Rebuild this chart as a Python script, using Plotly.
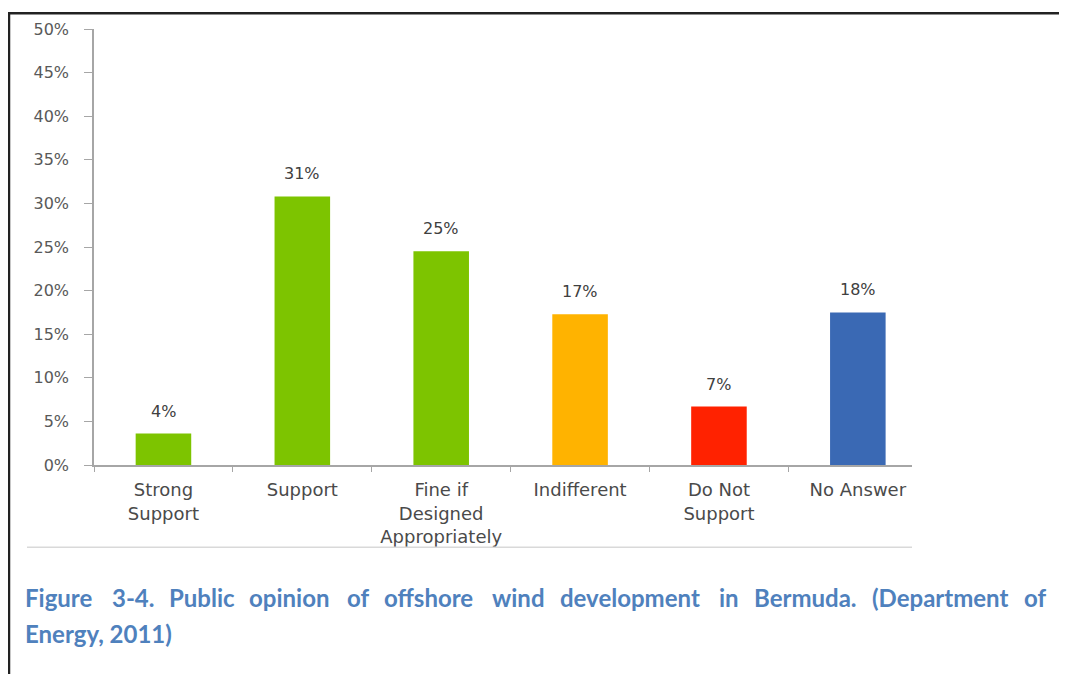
import plotly.graph_objects as go

categories = ["Strong<br>Support", "Support", "Fine if<br>Designed<br>Appropriately",
              "Indifferent", "Do Not<br>Support", "No Answer"]
values = [3.6, 30.8, 24.5, 17.3, 6.7, 17.5]
value_labels = ["4%", "31%", "25%", "17%", "7%", "18%"]
colors = ["#7DC400", "#7DC400", "#7DC400", "#FFB300", "#FF2200", "#3A69B4"]
y_ticks = [0, 5, 10, 15, 20, 25, 30, 35, 40, 45, 50]
caption_line1 = ["Figure", "3-4.", "Public", "opinion", "of", "offshore", "wind",
                 "development", "in", "Bermuda.", "(Department", "of"]
caption_line2 = "Energy, 2011)"

# page body offset of 8px: figure drawn from screen (8, 8)
OFF = 8
W, H = 1067 - OFF, 674 - OFF
L, T = 94 - OFF, 25 - OFF
R = W - (912 - OFF)
B = H - (465 - OFF)
PW, PH = W - L - R, H - T - B


def px(x):
    return (x - OFF - L) / PW


def py(y):
    return (H - B - (y - OFF)) / PH


fig = go.Figure()
fig.add_trace(go.Bar(x=categories, y=values, marker_color=colors,
                     marker_line_width=0, hoverinfo="skip"))

for c, v, t in zip(categories, values, value_labels):
    fig.add_annotation(x=c, y=v, text=t, showarrow=False, yanchor="bottom",
                       yshift=11, font=dict(family="DejaVu Sans", size=16, color="#404040"))

cap_font = dict(family="Lato", size=24, color="#4F81BD", weight="bold")
word_x = [23, 110, 167, 247, 345, 382, 490, 558, 717, 752, 870, 1022]
for wx, w in zip(word_x, caption_line1):
    fig.add_annotation(xref="paper", yref="paper", x=px(wx), y=py(599), text=w,
                       showarrow=False, xanchor="left", yanchor="middle", font=cap_font)
fig.add_annotation(xref="paper", yref="paper", x=px(23), y=py(635), text=caption_line2,
                   showarrow=False, xanchor="left", yanchor="middle", font=cap_font)

# separator line and page border
fig.add_shape(type="line", xref="paper", yref="paper", x0=px(27), x1=px(912),
              y0=py(548), y1=py(548), line=dict(color="#D9D9D9", width=1.5))
fig.add_shape(type="line", xref="paper", yref="paper", x0=px(9), x1=px(9),
              y0=py(8), y1=py(690), line=dict(color="#222222", width=2.5))
fig.add_shape(type="line", xref="paper", yref="paper", x0=px(8), x1=px(1080),
              y0=py(9), y1=py(9), line=dict(color="#222222", width=2.5))

fig.update_layout(
    width=W, height=H,
    margin=dict(l=L, r=R, t=T, b=B),
    paper_bgcolor="white", plot_bgcolor="white",
    bargap=0.6, showlegend=False,
    font=dict(family="DejaVu Sans", color="#595959"),
)
fig.update_xaxes(range=[-0.5, 5.39],
                 showline=True, linecolor="#A6A6A6", linewidth=1.5,
                 ticks="outside", tickson="boundaries", ticklen=5, tickcolor="#A6A6A6",
                 ticklabelstandoff=8,
                 tickfont=dict(family="DejaVu Sans", size=18, color="#4A4A4A"),
                 showgrid=False, fixedrange=True)
fig.update_yaxes(range=[0, 50], tickvals=y_ticks, ticktext=[f"{v}%" for v in y_ticks],
                 showline=True, linecolor="#A6A6A6", linewidth=1.5, ticks="outside",
                 ticklen=8, tickcolor="#A6A6A6", showgrid=False, zeroline=False,
                 ticklabelstandoff=12,
                 tickfont=dict(family="DejaVu Sans", size=16, color="#595959"),
                 fixedrange=True)

fig.write_html("out.html")
